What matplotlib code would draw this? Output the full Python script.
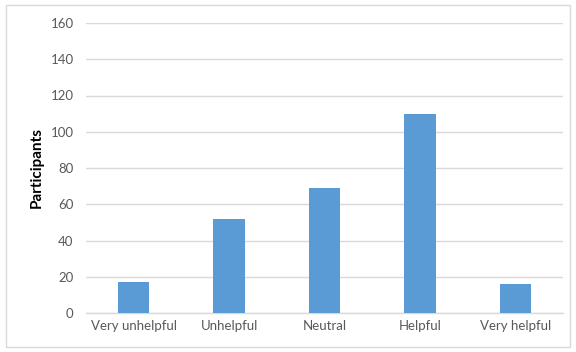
import matplotlib
matplotlib.use("Agg")
import matplotlib.pyplot as plt
from matplotlib.patches import Rectangle

categories = ["Very unhelpful", "Unhelpful", "Neutral", "Helpful", "Very helpful"]
participants = [17, 52, 69, 110, 16]
y_ticks = [0, 20, 40, 60, 80, 100, 120, 140, 160]

plt.rcParams["font.family"] = ["Lato", "DejaVu Sans"]

fig = plt.figure(figsize=(5.76, 3.52), dpi=100)
ax = fig.add_axes([86 / 576, 1 - 313 / 352, (563 - 86) / 576, (313 - 23) / 352])

x = range(len(categories))
ax.bar(x, participants, width=0.33, color="#5B9BD5", zorder=3)

ax.set_xlim(-0.5, len(categories) - 0.5)
ax.set_ylim(0, 160)
ax.set_yticks(y_ticks)
ax.set_xticks(list(x))
ax.set_xticklabels(categories)
ax.tick_params(axis="both", length=0, labelsize=9.5, labelcolor="#595959")
ax.tick_params(axis="y", pad=9)
ax.tick_params(axis="x", pad=5)

ax.grid(axis="y", color="#D9D9D9", linewidth=1, zorder=0)
for side in ["top", "right", "left"]:
    ax.spines[side].set_visible(False)
ax.spines["bottom"].set_color("#D9D9D9")
ax.spines["bottom"].set_linewidth(1)

ax.set_ylabel("Participants", fontsize=11, fontweight="bold", color="black", labelpad=5)

fig.patches.append(Rectangle((6 / 576, 1 - 347 / 352), (570 - 6) / 576, (347 - 5) / 352,
                             transform=fig.transFigure, fill=False,
                             edgecolor="#D9D9D9", linewidth=1))

fig.savefig("out.png", dpi=100)
